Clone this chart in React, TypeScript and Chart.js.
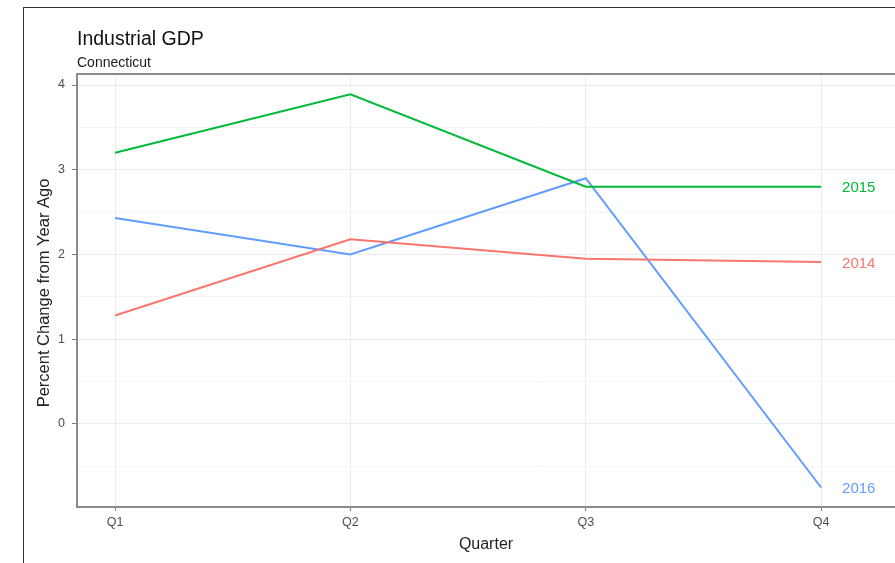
import React, { useEffect, useRef } from "react";
import { Chart, registerables } from "chart.js";

Chart.register(...registerables);

const QUARTERS = ["Q1", "Q2", "Q3", "Q4"];
const YEARS = ["2014", "2015", "2016"];
const VALUES_2014 = [1.28, 2.18, 1.95, 1.91];
const VALUES_2015 = [3.2, 3.89, 2.8, 2.8];
const VALUES_2016 = [2.43, 2.0, 2.9, -0.75];
const SERIES = [VALUES_2014, VALUES_2015, VALUES_2016];
const COLORS = ["#F8766D", "#00BA38", "#619CFF"];
const Y_TICKS = [-0.5, 0, 0.5, 1, 1.5, 2, 2.5, 3, 3.5, 4];
const TITLE = "Industrial GDP";
const SUBTITLE = "Connecticut";
const X_TITLE = "Quarter";
const Y_TITLE = "Percent Change from Year Ago";

const FONT = "'Liberation Sans', Arial, sans-serif";
const LABEL_X = 4.16;

const overlay = {
  id: "overlay",
  afterDatasetsDraw(chart: any) {
    const { ctx, chartArea, scales } = chart;
    ctx.save();
    ctx.font = `15px ${FONT}`;
    ctx.textAlign = "center";
    ctx.textBaseline = "middle";
    SERIES.forEach((vals, i) => {
      const x = scales.x.getPixelForValue(LABEL_X);
      const y = scales.y.getPixelForValue(vals[vals.length - 1]);
      ctx.fillStyle = COLORS[i];
      ctx.fillText(YEARS[i], x, y + 1.5);
    });
    ctx.strokeStyle = "#8a8a8a";
    ctx.lineWidth = 2;
    ctx.strokeRect(chartArea.left, chartArea.top, chartArea.right - chartArea.left + 5, chartArea.bottom - chartArea.top);
    ctx.restore();
  },
  afterDraw(chart: any) {
    const { ctx, chartArea } = chart;
    ctx.save();
    ctx.fillStyle = "#111";
    ctx.textAlign = "left";
    ctx.textBaseline = "alphabetic";
    ctx.font = `19.5px ${FONT}`;
    ctx.fillText(TITLE, 77, 45);
    ctx.font = `14px ${FONT}`;
    ctx.fillStyle = "#1a1a1a";
    ctx.fillText(SUBTITLE, 77, 67);
    ctx.fillStyle = "#222";
    ctx.font = `16px ${FONT}`;
    ctx.textAlign = "center";
    ctx.textBaseline = "middle";
    ctx.fillText(X_TITLE, 486, 545);
    ctx.font = `16.5px ${FONT}`;
    ctx.translate(44, 293);
    ctx.rotate(-Math.PI / 2);
    ctx.fillText(Y_TITLE, 0, 0);
    ctx.restore();
  },
};

export default function App() {
  const ref = useRef<HTMLCanvasElement>(null);
  useEffect(() => {
    if (!ref.current) return;
    const chart = new Chart(ref.current, {
      type: "line",
      data: {
        datasets: SERIES.map((vals, i) => ({
          label: YEARS[i],
          data: vals.map((v, j) => ({ x: j + 1, y: v })),
          borderColor: COLORS[i],
          backgroundColor: COLORS[i],
          borderWidth: 2,
          pointRadius: 0,
          tension: 0,
        })),
      },
      options: {
        animation: false,
        responsive: false,
        maintainAspectRatio: false,
        layout: { padding: { top: 74, left: 0, right: 0, bottom: 0 } },
        plugins: {
          legend: { display: false },
          tooltip: { enabled: false },
          title: { display: false },
        },
        scales: {
          x: {
            type: "linear",
            min: 0.8385,
            max: 4.76,
            afterBuildTicks: (s: any) => {
              s.ticks = QUARTERS.map((_, i) => ({ value: i + 1 }));
            },
            afterFit: (s: any) => {
              s.height = 56;
            },
            ticks: {
              autoSkip: false,
              maxRotation: 0,
              padding: 4,
              color: "#4d4d4d",
              font: { family: FONT, size: 12.5 },
              callback: (v: any) => QUARTERS[Number(v) - 1] ?? "",
            },
            grid: {
              color: "#ebebeb",
              lineWidth: 1,
              drawTicks: true,
              tickLength: 4,
              tickColor: "#7f7f7f",
            },
            border: { display: false },
          },
          y: {
            type: "linear",
            min: -0.98,
            max: 4.13,
            afterBuildTicks: (s: any) => {
              s.ticks = Y_TICKS.map((v) => ({ value: v }));
            },
            afterFit: (s: any) => {
              s.width = 77;
            },
            ticks: {
              padding: 7,
              color: "#4d4d4d",
              font: { family: FONT, size: 12.5 },
              callback: (v: any) => (Number.isInteger(Number(v)) ? String(v) : ""),
            },
            grid: {
              color: (c: any) => (c.tick && Number.isInteger(c.tick.value) ? "#ebebeb" : "#f4f4f4"),
              lineWidth: 1,
              drawTicks: true,
              tickLength: 5,
              tickColor: (c: any) => (c.tick && Number.isInteger(c.tick.value) ? "#7f7f7f" : "rgba(0,0,0,0)"),
            },
            border: { display: false },
          },
        },
      },
      plugins: [overlay],
    });
    return () => chart.destroy();
  }, []);

  return (
    <div
      style={{
        position: "fixed",
        left: 0,
        top: 0,
        width: 895,
        height: 563,
        overflow: "hidden",
        background: "#fff",
      }}
    >
      <canvas
        ref={ref}
        width={1000}
        height={563}
        style={{ position: "absolute", left: 0, top: 0, width: 1000, height: 563 }}
      />
      <div
        style={{
          position: "absolute",
          left: 23,
          top: 7,
          width: 1000,
          height: 1000,
          borderLeft: "1px solid #333",
          borderTop: "1px solid #333",
          pointerEvents: "none",
        }}
      />
    </div>
  );
}
